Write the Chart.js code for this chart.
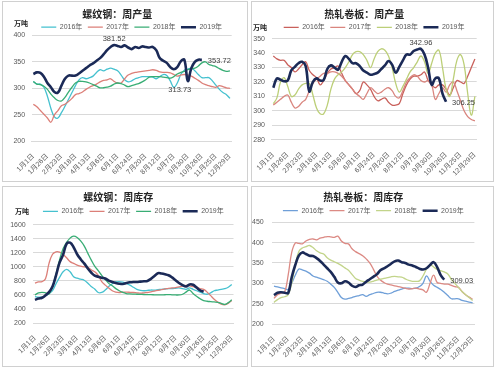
<!DOCTYPE html>
<html>
<head>
<meta charset="utf-8">
<script src="https://cdn.jsdelivr.net/npm/chart.js@4.4.0/dist/chart.umd.min.js"></script>
<style>
  body { margin: 0; background: #fff; width: 500px; height: 368px; overflow: hidden; position: relative; }
  .panel { position: absolute; border: 1px solid #d0d0d0; background: #fff; }
  .panel canvas { display: block; }
</style>
</head>
<body>
<div class="panel" style="left:2px;top:1px;width:244px;height:179px"><canvas id="rebarOutput" width="244" height="179"></canvas></div>
<div class="panel" style="left:251px;top:1px;width:241px;height:179px"><canvas id="hrcOutput" width="241" height="179"></canvas></div>
<div class="panel" style="left:2px;top:186px;width:244px;height:179px"><canvas id="rebarStock" width="244" height="179"></canvas></div>
<div class="panel" style="left:251px;top:186px;width:241px;height:179px"><canvas id="hrcStock" width="241" height="179"></canvas></div>

<script>
// --- data ---
const tickLabels = ['1月1日', '1月26日', '2月23日', '3月18日', '4月13日', '5月6日', '6月1日', '6月24日',
  '7月20日', '8月12日', '9月7日', '9月30日', '10月26日', '11月25日', '12月29日'];
const seriesNames = ['2016年', '2017年', '2018年', '2019年'];

// 螺纹钢 周产量 (万吨)
const rebarOutput2016 = [313,308,308,302,285,262,246,244,254,266, 279,292,305,316,320,318,320,323,330,335,
  333,336,338,336,333,325,316,312,314,318, 320,322,322,322,321,318,322,326,324,314,
  302,310,326,334,336,338,333,326,320,320, 320,314,306,298,292,288,281];
const rebarOutput2017 = [270,265,258,251,244,236,250,258,267,270, 275,281,288,290,293,298,302,305,308,312,
  315,316,318,313,310,310,318,325,328,330, 331,332,333,334,335,334,331,330,330,329,
  326,323,325,326,325,323,319,315,310,307, 305,303,302,305,303,301,300];
const rebarOutput2018 = [313,308,307,304,298,289,282,277,276,283, 293,302,310,313,313,312,310,307,304,301,
  301,302,304,308,310,309,306,303,305,307, 309,312,316,321,322,322,322,321,320,319,
  322,327,330,332,335,337,338,342,348,350, 345,343,341,337,334,332,333];
const rebarOutput2019 = [327,330,329,322,310,302,293,292,305,318, 324,324,324,328,333,338,343,347,352,357,
  364,372,378,381.52,380,378,381,377,374,378, 376,379,378,377,378,372,357,352,348,340,
  336,340,351,354,313.73,338,350,354,353.72];

// 热轧卷板 周产量 (万吨)
const hrcOutput2016 = [338,336,335,335,332,330,327,329,332,334, 328,325,323,318,321,326,329,330,331,326,
  321,318,315,312,314,320,318,315,310,307, 308,309,306,304,304,305,312,318,322,324,
  324,325,327,321,318,316,318,318,315,311, 316,321,320,319,324,330,336];
const hrcOutput2017 = [304,306,308,310,311,306,302,303,306,308, 314,319,322,324,326,326,327,327,326,324,
  321,318,315,312,310,308,312,316,314,312, 313,315,316,314,310,309,314,320,323,325,
  324,321,320,321,318,308,312,316,313,318, 320,314,307,300,296,294,293];
const hrcOutput2018 = [305,309,320,323,317,310,311,315,318,319, 319,311,302,298,298,304,315,322,325,327,
  330,334,339,341,341,339,335,330,336,341, 343,342,338,330,319,313,317,322,327,330,
  334,338,334,326,333,340,342,330,315,310, 322,335,339,332,312,297,310];
const hrcOutput2019 = [316,322.5,321.5,320.5,321,328,330.5,333,334,331, 313.5,320,322.5,321,321.5,329,331.5,330,328.5,334,
  338,336,333,333,331,328,326.5,325,325.5,326.5, 329,331.5,334.5,332,326.5,330.5,335,339,339,341.5,
  342.5,342.96,339,330,318,322.5,322.5,312,306.25];

// 螺纹钢 周库存 (万吨)
const rebarStock2016 = [576,570,568,585,620,660,760,850,930,965, 930,860,840,825,810,770,720,686,635,635,
  670,720,760,785,790,782,765,740,710,680, 665,660,665,670,670,675,680,685,690,690,
  695,700,690,680,700,680,660,640,620,610, 630,660,670,680,690,710,750];
const rebarStock2017 = [770,785,790,830,1050,1180,1215,1210,1175,1130, 1075,1050,1025,1010,1000,995,960,930,880,790,
  740,700,660,640,635,640,640,638,635,630, 625,630,635,645,655,665,675,685,695,700,
  705,715,725,735,730,720,710,690,680,640, 590,540,500,470,460,480,520];
const rebarStock2018 = [600,630,638,630,614,720,900,1100,1257,1350, 1410,1438,1420,1370,1300,1200,1100,1010,948,880,
  820,765,730,690,660,638,620,615,612,610, 608,606,605,604,602,600,600,603,605,602,
  600,600,610,640,670,620,580,545,520,510, 505,500,495,480,465,490,530];
const rebarStock2019 = [530,548,560,595,640,720,880,1060,1171,1329, 1345,1280,1180,1110,1050,980,920,876,860,845,
  835,805,785,770,760,757,770,780,785,785, 790,795,800,830,870,910,905,895,880,850,
  810,770,740,720,750,745,705,665,645];

// 热轧卷板 周库存 (万吨)
const hrcStock2016 = [293,291,289,287,285,300,320,335,333,330, 325,318,315,312,309,305,298,290,278,265,
  261,263,265,268,270,272,268,272,275,278, 278,276,274,276,280,283,286,288,288,287,
  288,292,300,318,305,295,290,285,278,270, 262,262,262,258,256,254,252];
const hrcStock2017 = [263,272,276,278,320,376,399,398,397,404, 408,409,407,411,413,415,414,413,416,404,
  398,397,385,378,373,368,360,350,335,318, 308,302,298,296,294,292,290,288,286,287,
  288,286,284,278,300,320,302,300,298,298, 295,292,290,280,272,266,261];
const hrcStock2018 = [253,260,265,267,272,300,345,378,387,390, 393,388,380,375,372,363,357,353,349,344,
  338,332,322,312,308,305,303,303,305,308, 310,312,314,316,317,316,315,311,307,305,
  305,306,318,335,345,340,334,331,328,323, 310,300,290,280,272,265,258];
const hrcStock2019 = [271,277,278,277,276,315,345,368,376,372, 368,367,362,355,346,337,328,316,302,300,
  305,302,294,291,295,297,304,310,316,322, 332,337,342,348,354,356,352,350,346,344,
  340,336,334,337,345,352,340,320,309.03];

// weekly categories, a tick label every 4th week
const categories = [];
for (let i = 0; i < 57; i++) categories.push(i % 4 === 0 ? tickLabels[i / 4] : '');

const FONT = '"Liberation Sans", "Noto Sans CJK SC", sans-serif';
const CJK = '"Noto Sans CJK SC", sans-serif';

// value labels on the 2019 line
const valueLabels = {
  id: 'valueLabels',
  afterDatasetsDraw(chart, args, opts) {
    if (!opts.items) return;
    const ctx = chart.ctx;
    const meta = chart.getDatasetMeta(3);
    const values = chart.data.datasets[3].data;
    ctx.save();
    ctx.font = '7.5px ' + FONT;
    ctx.fillStyle = '#404040';
    ctx.textBaseline = 'middle';
    opts.items.forEach(it => {
      const pt = meta.data[it.index];
      const text = values[it.index].toFixed(2);
      if (it.pos === 'above') {
        ctx.textAlign = 'center';
        ctx.fillText(text, pt.x, pt.y - 6);
      } else if (it.pos === 'below') {
        ctx.textAlign = 'center';
        ctx.fillText(text, pt.x - 8, pt.y + 9);
      } else {
        ctx.textAlign = 'left';
        ctx.fillText(text, pt.x + 6, pt.y + 1);
      }
    });
    ctx.restore();
  }
};

// the 万吨 unit in the legend row
const unitLabel = {
  id: 'unitLabel',
  afterDraw(chart, args, opts) {
    if (!opts.text) return;
    const ctx = chart.ctx;
    ctx.save();
    ctx.font = 'bold 7px ' + CJK;
    ctx.fillStyle = '#262626';
    ctx.textBaseline = 'middle';
    ctx.textAlign = 'left';
    ctx.fillText(opts.text, opts.x, opts.y);
    ctx.restore();
  }
};

function drawPanel(p) {
  const datasets = p.series.map((data, i) => ({
    label: seriesNames[i],
    data: data,
    borderColor: p.colors[i],
    backgroundColor: p.colors[i],
    borderWidth: i === 3 ? 2.6 : 1.3,
    pointRadius: 0,
    tension: 0.4,
    fill: false,
    order: 3 - i
  }));

  return new Chart(document.getElementById(p.id), {
    type: 'line',
    data: { labels: categories, datasets: datasets },
    plugins: [valueLabels, unitLabel],
    options: {
      responsive: false,
      animation: false,
      devicePixelRatio: 1,
      events: [],
      layout: { padding: { left: 0, right: p.box.padR, top: 0, bottom: 0 } },
      plugins: {
        title: {
          display: true,
          text: p.title,
          color: '#262626',
          font: { size: 10, weight: 'bold', family: CJK },
          padding: { top: p.box.titleTop, bottom: p.box.titleBottom }
        },
        legend: {
          fullSize: false,
          maxHeight: p.box.legendH,
          labels: {
            usePointStyle: true,
            pointStyle: 'line',
            pointStyleWidth: 15,
            boxHeight: 7,
            padding: 5.5,
            color: '#595959',
            font: { size: 7, family: FONT },
            sort: (a, b) => a.datasetIndex - b.datasetIndex
          }
        },
        tooltip: { enabled: false },
        valueLabels: { items: p.labels },
        unitLabel: p.unit || {}
      },
      scales: {
        x: {
          offset: true,
          grid: { display: false },
          border: { display: true, color: '#d9d9d9' },
          ticks: {
            autoSkip: false, minRotation: 45, maxRotation: 45, padding: 3,
            color: '#595959', font: { size: 7, family: FONT }
          },
          afterFit: s => { s.height = p.box.xH; }
        },
        y: {
          min: p.y.min, max: p.y.max,
          grid: { color: '#d9d9d9', drawTicks: false },
          border: { display: false },
          ticks: {
            stepSize: p.y.step, padding: p.box.yPad, color: '#595959', font: { size: 7, family: FONT },
            callback: v => String(v)
          },
          afterFit: s => { s.width = p.box.yW; }
        }
      }
    }
  });
}

const navy = '#1b2a57';

drawPanel({
  id: 'rebarOutput',
  title: '螺纹钢：周产量',
  series: [rebarOutput2016, rebarOutput2017, rebarOutput2018, rebarOutput2019],
  colors: ['#45c1cf', '#dc7f78', '#38ad74', navy],
  y: { min: 200, max: 400, step: 50 },
  box: { titleTop: 6.7, titleBottom: -2.5, legendH: 17.1, yW: 28.6, yPad: 6.5, padR: 15.3, xH: 39.7 },
  unit: { text: '万吨', x: 11, y: 21.3 },
  labels: [{ index: 23, pos: 'above' }, { index: 44, pos: 'below' }, { index: 48, pos: 'right' }]
});

drawPanel({
  id: 'hrcOutput',
  title: '热轧卷板：周产量',
  series: [hrcOutput2016, hrcOutput2017, hrcOutput2018, hrcOutput2019],
  colors: ['#c9605b', '#d9857e', '#bccf78', navy],
  y: { min: 280, max: 350, step: 10 },
  box: { titleTop: 6, titleBottom: -1.7, legendH: 20.4, yW: 19.5, yPad: 6.5, padR: 16.3, xH: 41.3 },
  unit: { text: '万吨', x: 1, y: 25 },
  labels: [{ index: 41, pos: 'above' }, { index: 48, pos: 'right' }]
});

drawPanel({
  id: 'rebarStock',
  title: '螺纹钢：周库存',
  series: [rebarStock2016, rebarStock2017, rebarStock2018, rebarStock2019],
  colors: ['#45c1cf', '#dc7f78', '#38ad74', navy],
  y: { min: 200, max: 1600, step: 200 },
  box: { titleTop: 4.3, titleBottom: -1, legendH: 22.7, yW: 30.2, yPad: 7.5, padR: 13.5, xH: 43 },
  unit: { text: '万吨', x: 12, y: 24.3 },
  labels: []
});

drawPanel({
  id: 'hrcStock',
  title: '热轧卷板：周库存',
  series: [hrcStock2016, hrcStock2017, hrcStock2018, hrcStock2019],
  colors: ['#6f9fd8', '#dc8a84', '#c2d48a', navy],
  y: { min: 200, max: 450, step: 50 },
  box: { titleTop: 4.3, titleBottom: -1.6, legendH: 20.6, yW: 20.2, yPad: 8.5, padR: 18.6, xH: 42 },
  unit: null,
  labels: [{ index: 48, pos: 'right' }]
});
</script>
</body>
</html>
